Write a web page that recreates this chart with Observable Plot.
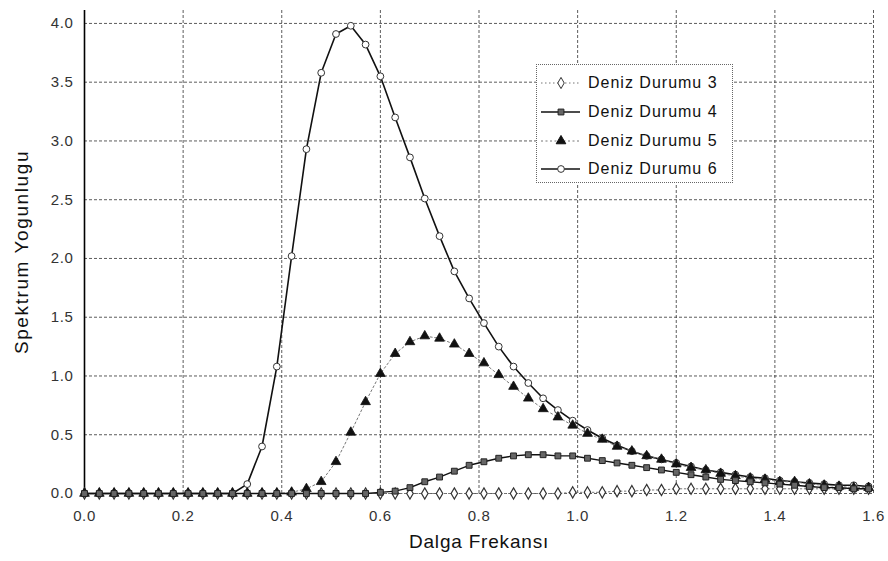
<!DOCTYPE html>
<html><head><meta charset="utf-8">
<script src="https://cdn.jsdelivr.net/npm/d3@7"></script>
<script src="https://cdn.jsdelivr.net/npm/@observablehq/plot@0.6"></script>
<style>
body{margin:0;background:#fff;}
#wrap{position:relative;width:888px;height:561px;font-family:"Liberation Sans",Arial,sans-serif;}
#legend{position:absolute;left:536px;top:64px;width:197px;height:119px;border:1px dotted #666;background:#fff;box-sizing:border-box;}
.row{position:absolute;left:0;height:22px;display:flex;align-items:center;}
.row span{font-size:16px;color:#111;margin-left:5px;letter-spacing:1px;white-space:nowrap}
#wrap svg g[aria-label="x-axis label"] text{font-size:19px;fill:#111;letter-spacing:0.8px}
#wrap svg g[aria-label="y-axis label"] text{font-size:19px;fill:#111;letter-spacing:1.6px}
#wrap svg g[aria-label$="tick label"] text{letter-spacing:0.6px}
</style></head><body><div id="wrap"></div>
<script>
// x values (Dalga Frekansı)
const freq = [0.00,0.03,0.06,0.09,0.12,0.15,0.18,0.21,0.24,0.27,0.30,0.33,0.36,0.39,0.42,0.45,0.48,0.51,0.54,0.57,
  0.60,0.63,0.66,0.69,0.72,0.75,0.78,0.81,0.84,0.87,0.90,0.93,0.96,0.99,1.02,1.05,1.08,1.11,1.14,1.17,
  1.20,1.23,1.26,1.29,1.32,1.35,1.38,1.41,1.44,1.47,1.50,1.53,1.56,1.59];
// Deniz Durumu 3
const state3 = [0,0,0,0,0,0,0,0,0,0,0,0,0,0,0,0,0,0,0,0,
  0,0,0,0,0,0,0,0,0,0,0,0,0.00,0.01,0.01,0.01,0.02,0.02,0.03,0.03,
  0.04,0.04,0.04,0.04,0.04,0.04,0.04,0.04,0.04,0.04,0.04,0.04,0.04,0.04];
// Deniz Durumu 4
const state4 = [0,0,0,0,0,0,0,0,0,0,0,0,0,0,0,0,0,0,0,0.00,
  0.01,0.02,0.05,0.10,0.14,0.19,0.24,0.27,0.30,0.32,0.33,0.33,0.32,0.32,0.30,0.28,0.26,0.24,0.22,0.20,
  0.18,0.16,0.14,0.12,0.11,0.10,0.09,0.08,0.07,0.06,0.05,0.05,0.04,0.04];
// Deniz Durumu 5
const state5 = [0,0,0,0,0,0,0,0,0,0,0,0,0,0,0.01,0.04,0.10,0.27,0.52,0.78,
  1.02,1.19,1.29,1.34,1.32,1.27,1.19,1.11,1.01,0.91,0.81,0.72,0.65,0.58,0.51,0.46,0.40,0.36,0.32,0.29,
  0.25,0.22,0.20,0.17,0.15,0.13,0.12,0.10,0.10,0.08,0.07,0.06,0.05,0.05];
// Deniz Durumu 6
const state6 = [0,0,0,0,0,0,0,0,0,0,0,0.08,0.40,1.08,2.02,2.93,3.58,3.91,3.98,3.82,
  3.55,3.20,2.86,2.51,2.19,1.89,1.66,1.45,1.25,1.08,0.94,0.81,0.71,0.62,0.54,0.47,0.41,0.36,0.32,0.29,
  0.26,0.23,0.20,0.18,0.16,0.14,0.13,0.11,0.10,0.09,0.08,0.07,0.07,0.06];
const seriesNames = ["Deniz Durumu 3","Deniz Durumu 4","Deniz Durumu 5","Deniz Durumu 6"];
const xTicks = [0,0.2,0.4,0.6,0.8,1.0,1.2,1.4,1.6];
const yTicks = [0,0.5,1.0,1.5,2.0,2.5,3.0,3.5,4.0];

const mk = vals => freq.map((f,i)=>({f, v: vals[i]}));
const d3s = mk(state3), d4s = mk(state4), d5s = mk(state5), d6s = mk(state6);

const chart = Plot.plot({
  width: 888, height: 561,
  marginLeft: 84, marginRight: 15, marginTop: 10, marginBottom: 68,
  style: {fontFamily: "Liberation Sans, Arial, sans-serif", fontSize: "14px", color: "#222", background: "#fff"},
  x: {domain: [0, 1.6]},
  y: {domain: [0, 4.11]},
  marks: [
    Plot.gridX(xTicks, {stroke: "#333", strokeOpacity: 0.8, strokeDasharray: "3,2"}),
    Plot.gridY(yTicks, {stroke: "#333", strokeOpacity: 0.8, strokeDasharray: "3,2"}),
    Plot.axisX(xTicks, {tickFormat: d3.format(".1f"), label: "Dalga Frekansı", labelAnchor: "center",
      labelOffset: 54, labelArrow: "none", tickSize: 0, tickPadding: 17, fontSize: 15, fill: "#333"}),
    Plot.axisY(yTicks, {tickFormat: d3.format(".1f"), label: "Spektrum Yogunlugu", labelAnchor: "center",
      labelOffset: 70, labelArrow: "none", tickSize: 0, tickPadding: 11, fontSize: 15, fill: "#333"}),
    Plot.ruleX([0], {stroke: "#000", strokeWidth: 1.6}),
    Plot.line(d3s, {x: "f", y: "v", stroke: "#777", strokeWidth: 1, strokeDasharray: "1.5,2.5"}),
    Plot.dot(d3s, {x: "f", y: "v", symbol: "diamond", r: 3.4, fill: "#fff", stroke: "#333", strokeWidth: 1.2}),
    Plot.line(d6s, {x: "f", y: "v", stroke: "#111", strokeWidth: 1.6}),
    Plot.dot(d6s, {x: "f", y: "v", symbol: "circle", r: 3.4, fill: "#fff", stroke: "#333", strokeWidth: 1}),
    Plot.line(d5s, {x: "f", y: "v", stroke: "#777", strokeWidth: 1, strokeDasharray: "2,2.5"}),
    Plot.dot(d5s, {x: "f", y: "v", symbol: "triangle", r: 3.6, fill: "#111", stroke: "#111", strokeWidth: 0.8}),
    Plot.line(d4s, {x: "f", y: "v", stroke: "#111", strokeWidth: 1.4}),
    Plot.dot(d4s, {x: "f", y: "v", symbol: "square", r: 3.3, fill: "#666", stroke: "#222", strokeWidth: 1})
  ]
});
const wrap = document.getElementById("wrap");
wrap.appendChild(chart);

// legend
const legend = document.createElement("div");
legend.id = "legend";
wrap.appendChild(legend);
const styles = [
  {sym: d3.symbolDiamond, size: 36, fill: "#fff", stroke: "#333", line: "#777", dash: "1.5,2.5", lw: 1},
  {sym: d3.symbolSquare, size: 34, fill: "#666", stroke: "#222", line: "#111", dash: null, lw: 1.4},
  {sym: d3.symbolTriangle, size: 40, fill: "#111", stroke: "#111", line: "#777", dash: "2,2.5", lw: 1},
  {sym: d3.symbolCircle, size: 36, fill: "#fff", stroke: "#333", line: "#111", dash: null, lw: 1.6}
];
const rowTops = [7, 36, 65, 93];
seriesNames.forEach((name, i) => {
  const row = document.createElement("div");
  row.className = "row";
  row.style.top = rowTops[i] + "px";
  const s = d3.create("svg").attr("width", 46).attr("height", 22);
  const st = styles[i];
  s.append("line").attr("x1", 4).attr("x2", 43).attr("y1", 11).attr("y2", 11)
    .attr("stroke", st.line).attr("stroke-width", st.lw).attr("stroke-dasharray", st.dash);
  s.append("path").attr("d", d3.symbol(st.sym, st.size)()).attr("transform", "translate(24,11)")
    .attr("fill", st.fill).attr("stroke", st.stroke);
  row.appendChild(s.node());
  const t = document.createElement("span");
  t.textContent = name;
  row.appendChild(t);
  legend.appendChild(row);
});
</script>
</body></html>
